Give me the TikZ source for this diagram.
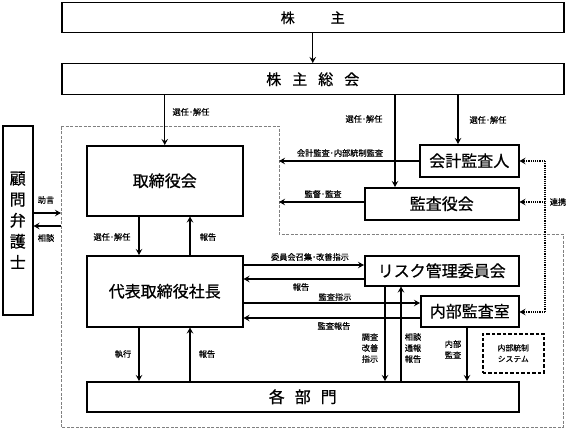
\documentclass[tikz,border=0pt]{standalone}
\usepackage{fontspec}
\newfontfamily\jp{Noto Sans CJK JP}[FakeBold=0.7]
\newfontfamily\jps{Noto Sans CJK JP}[FakeBold=0.4]
\usetikzlibrary{arrows.meta}
\begin{document}
\begin{tikzpicture}[x=1pt,y=-1pt,
  box/.style={draw, line width=1.5pt, inner sep=0pt, anchor=north west, align=center,
    font=\jp\fontsize{16}{20}\selectfont},
  arr/.style={line width=1.3pt, -{Stealth[length=6pt,width=6.5pt,inset=2.2pt]}},
  dotarr/.style={line width=1.4pt, dash pattern=on 1.2pt off 1pt, -{Stealth[length=6pt,width=6.5pt,inset=2.2pt]}},
  lbl/.style={inner sep=0pt, align=center, font=\jps\fontsize{8.2}{11}\selectfont},
  region/.style={gray, line width=0.9pt, dash pattern=on 3pt off 1.5pt}
]
\useasboundingbox (0,0) rectangle (576,428);

% outer dashed region
\draw[region] (61,126) -- (279,126) -- (279,234) -- (563,234) -- (563,427) -- (61,427) -- cycle;

% boxes
\node[box, minimum width=502pt, minimum height=30pt, font=\jp\fontsize{14}{16}\selectfont] (kabu) at (61,2) {株\hspace{36pt}主};
\node[box, minimum width=502pt, minimum height=31pt, font=\jp\fontsize{15}{16}\selectfont] (soukai) at (61,63) {株\hspace{11pt}主\hspace{11pt}総\hspace{11pt}会};
\node[box, minimum width=156pt, minimum height=70pt] (tori) at (86,145) {取締役会};
\node[box, minimum width=156pt, minimum height=71pt] (daihyo) at (86,255) {代表取締役社長};
\node[box, minimum width=432pt, minimum height=30pt] (kaku) at (86,381) {各\hspace{10pt}部\hspace{10pt}門};
\node[box, minimum width=99pt, minimum height=32pt] (kaikei) at (419,144) {会計監査人};
\node[box, minimum width=154pt, minimum height=32pt] (kansa) at (364,187) {監査役会};
\node[box, minimum width=154pt, minimum height=30pt] (risk) at (364,255) {リスク管理委員会};
\node[box, minimum width=98pt, minimum height=31pt] (naibu) at (420,295) {内部監査室};
\node[box, minimum width=30pt, minimum height=189pt, font=\jp\fontsize{16}{21}\selectfont] (komon) at (2,125) {顧\\問\\弁\\護\\士};
\node[box, line width=1.5pt, dash pattern=on 3.5pt off 2pt, minimum width=61pt, minimum height=39pt,
  font=\jps\fontsize{7.8}{11}\selectfont] (system) at (482,333) {内部統制\\システム};

% x positions of connectors
\coordinate (xk) at (395,0);
\coordinate (xa) at (458,0);
\coordinate (xt1) at (139,0);
\coordinate (xt2) at (190,0);
\coordinate (xr1) at (385,0);
\coordinate (xr2) at (401,0);
\coordinate (xn) at (467,0);
\coordinate (xd) at (545,0);
% region border points
\coordinate (rb1) at (279,161);
\coordinate (rb2) at (279,202);
\coordinate (lb1) at (61,213);
\coordinate (lb2) at (61,226);
\coordinate (y1) at (0,265);
\coordinate (y2) at (0,279);
\coordinate (y3) at (0,303);
\coordinate (y4) at (0,318);
\coordinate (yd1) at (0,161);
\coordinate (yd2) at (0,202);
\coordinate (yd3) at (0,312);

% connectors
\draw[arr] (kabu.south) -- (soukai.north);
\draw[arr] (soukai.south -| tori.north) -- (tori.north);
\draw[arr] (soukai.south -| xk) -- (kansa.north -| xk);
\draw[arr] (soukai.south -| xa) -- (kaikei.north -| xa);
\draw[arr] (kaikei.west |- rb1) -- (rb1);
\draw[arr] (kansa.west |- rb2) -- (rb2);
\draw[arr] (komon.east |- lb1) -- (lb1);
\draw[arr] (lb2) -- (komon.east |- lb2);
\draw[arr] (tori.south -| xt1) -- (daihyo.north -| xt1);
\draw[arr] (daihyo.north -| xt2) -- (tori.south -| xt2);
\draw[arr] (daihyo.east |- y1) -- (risk.west |- y1);
\draw[arr] (risk.west |- y2) -- (daihyo.east |- y2);
\draw[arr] (daihyo.east |- y3) -- (naibu.west |- y3);
\draw[arr] (naibu.west |- y4) -- (daihyo.east |- y4);
\draw[arr] (daihyo.south -| xt1) -- (kaku.north -| xt1);
\draw[arr] (kaku.north -| xt2) -- (daihyo.south -| xt2);
\draw[arr] (risk.south -| xr1) -- (kaku.north -| xr1);
\draw[arr] (kaku.north -| xr2) -- (risk.south -| xr2);
\draw[arr] (naibu.south -| xn) -- (kaku.north -| xn);
% cooperation (dotted)
\draw[line width=1.4pt, dash pattern=on 1.2pt off 1pt] (xd |- yd1) -- (xd |- yd3);
\draw[dotarr] (xd |- yd1) -- (kaikei.east |- yd1);
\draw[dotarr] (xd |- yd2) -- (kansa.east |- yd2);
\draw[dotarr] (xd |- yd3) -- (naibu.east |- yd3);

% labels
\node[lbl] (l1) at (191,112) {選任･解任};
\node[lbl] (l2) at (364,119) {選任･解任};
\node[lbl] (l3) at (488,120) {選任･解任};
\node[lbl] (l4) at (340,153) {会計監査･内部統制監査};
\node[lbl] (l5) at (323,194) {監督･監査};
\node[lbl] (l6) at (46,200) {助言};
\node[lbl] (l7) at (46,238) {相談};
\node[lbl] (l8) at (112,237) {選任･解任};
\node[lbl] (l9) at (208,237) {報告};
\node[lbl] (l10) at (310,257) {委員会召集･改善指示};
\node[lbl] (l11) at (301,287) {報告};
\node[lbl] (l12) at (335,297) {監査指示};
\node[lbl] (l13) at (334,326) {監査報告};
\node[lbl] (l14) at (370,348) {調査\\改善\\指示};
\node[lbl] (l15) at (413,348) {相談\\通報\\報告};
\node[lbl] (l16) at (453,349.5) {内部\\監査};
\node[lbl] (l17) at (123,354) {執行};
\node[lbl] (l18) at (207,354) {報告};
\node[lbl] (l19) at (558,202) {連携};
\end{tikzpicture}
\end{document}
